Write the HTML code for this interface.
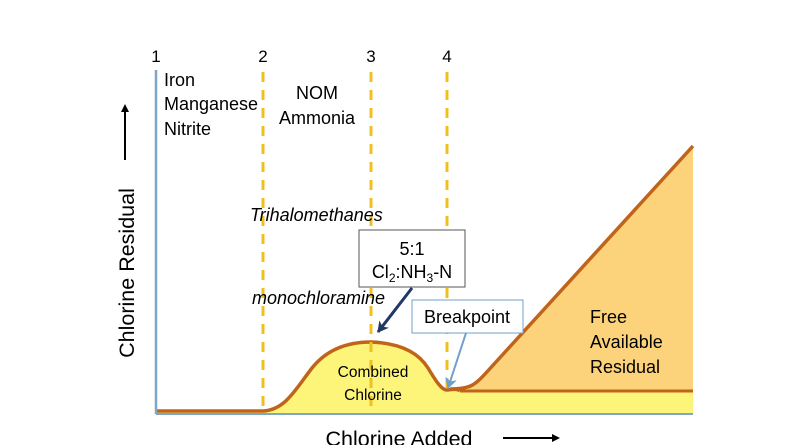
<!DOCTYPE html>
<html><head><style>
html,body{margin:0;padding:0;background:#fff;overflow:hidden;}
svg{display:block;}
svg text{font-family:"Liberation Sans","DejaVu Sans",sans-serif;}
</style></head><body>
<svg width="800" height="445" viewBox="0 0 800 445" xmlns="http://www.w3.org/2000/svg">
<defs>
<marker id="ah" markerWidth="8" markerHeight="8" refX="6" refY="4" orient="auto" markerUnits="userSpaceOnUse"><path d="M0,0 L8,4 L0,8 z" fill="#000"/></marker>
<marker id="an" markerWidth="12" markerHeight="12" refX="10" refY="6" orient="auto" markerUnits="userSpaceOnUse"><path d="M0,0 L11,6 L0,12 L3,6 z" fill="#1f3864"/></marker>
<marker id="ab" markerWidth="12" markerHeight="12" refX="10" refY="6" orient="auto" markerUnits="userSpaceOnUse"><path d="M0,0 L11,6 L0,12 L3,6 z" fill="#6fa0cc"/></marker>
</defs>
<path d="M263,412 C285,410 295,390 312,368 C328,348 350,342 371,342 C400,343 418,352 428,368 C437,383 442,390 447,390 L460,391 L693,391 L693,413 L156,413 L156,412 Z" fill="#fdf57a"/>
<path d="M460,391 C470,390 475,385 485,374 L693,146 L693,391 Z" fill="#fcd37a"/>
<path d="M156,411 L263,411 C285,410 295,390 312,368 C328,348 350,342 371,342 C400,343 418,352 428,368 C437,383 442,390 447,390 C455,389 458,389 460,391" fill="none" stroke="#c0641a" stroke-width="3.5"/>
<path d="M450,389 C470,389 475,385 485,374 L693,146" fill="none" stroke="#c0641a" stroke-width="3.5"/>
<line x1="460" y1="391" x2="693" y2="391" stroke="#c0641a" stroke-width="3"/>
<line x1="156" y1="70" x2="156" y2="414" stroke="#7ea6c8" stroke-width="2.5"/>
<line x1="156" y1="414" x2="693" y2="414" stroke="#7ea6c8" stroke-width="2"/>
<g stroke="#f0c020" stroke-width="3" stroke-dasharray="10,8">
<line x1="263" y1="72" x2="263" y2="412"/>
<line x1="371" y1="72" x2="371" y2="412"/>
<line x1="447" y1="72" x2="447" y2="390"/>
</g>
<g font-size="17" fill="#000" text-anchor="middle">
<text x="156" y="62">1</text><text x="263" y="62">2</text><text x="371" y="62">3</text><text x="447" y="62">4</text>
</g>
<g font-size="18" fill="#000">
<text x="164" y="86">Iron</text>
<text x="164" y="110">Manganese</text>
<text x="164" y="135">Nitrite</text>
<text x="317" y="99" text-anchor="middle">NOM</text>
<text x="317" y="124" text-anchor="middle">Ammonia</text>
<text x="250" y="221" font-style="italic">Trihalomethanes</text>
<text x="252" y="304" font-style="italic">monochloramine</text>
</g>
<rect x="359" y="230" width="106" height="57" fill="#fff" stroke="#555" stroke-width="1"/>
<text x="412" y="255" font-size="18" text-anchor="middle">5:1</text>
<text x="412" y="278" font-size="18" text-anchor="middle">Cl<tspan font-size="12" dy="4">2</tspan><tspan dy="-4">:NH</tspan><tspan font-size="12" dy="4">3</tspan><tspan dy="-4">-N</tspan></text>
<line x1="412" y1="288" x2="378" y2="332" stroke="#1f3864" stroke-width="3" marker-end="url(#an)"/>
<rect x="412" y="300" width="111" height="33" fill="#fff" stroke="#6fa0cc" stroke-width="1"/>
<text x="467" y="323" font-size="18" text-anchor="middle">Breakpoint</text>
<line x1="466" y1="333" x2="448" y2="388" stroke="#6fa0cc" stroke-width="2" marker-end="url(#ab)"/>
<g font-size="15.5" fill="#000" text-anchor="middle">
<text x="373" y="377">Combined</text><text x="373" y="400">Chlorine</text>
</g>
<g font-size="18" fill="#000">
<text x="590" y="323">Free</text><text x="590" y="348">Available</text><text x="590" y="373">Residual</text>
</g>
<text transform="translate(134,273) rotate(-90)" font-size="21.5" text-anchor="middle">Chlorine Residual</text>
<line x1="125" y1="160" x2="125" y2="106" stroke="#000" stroke-width="2" marker-end="url(#ah)"/>
<text x="399" y="446" font-size="21.5" text-anchor="middle">Chlorine Added</text>
<line x1="503" y1="438" x2="558" y2="438" stroke="#000" stroke-width="2" marker-end="url(#ah)"/>
</svg>
</body></html>
